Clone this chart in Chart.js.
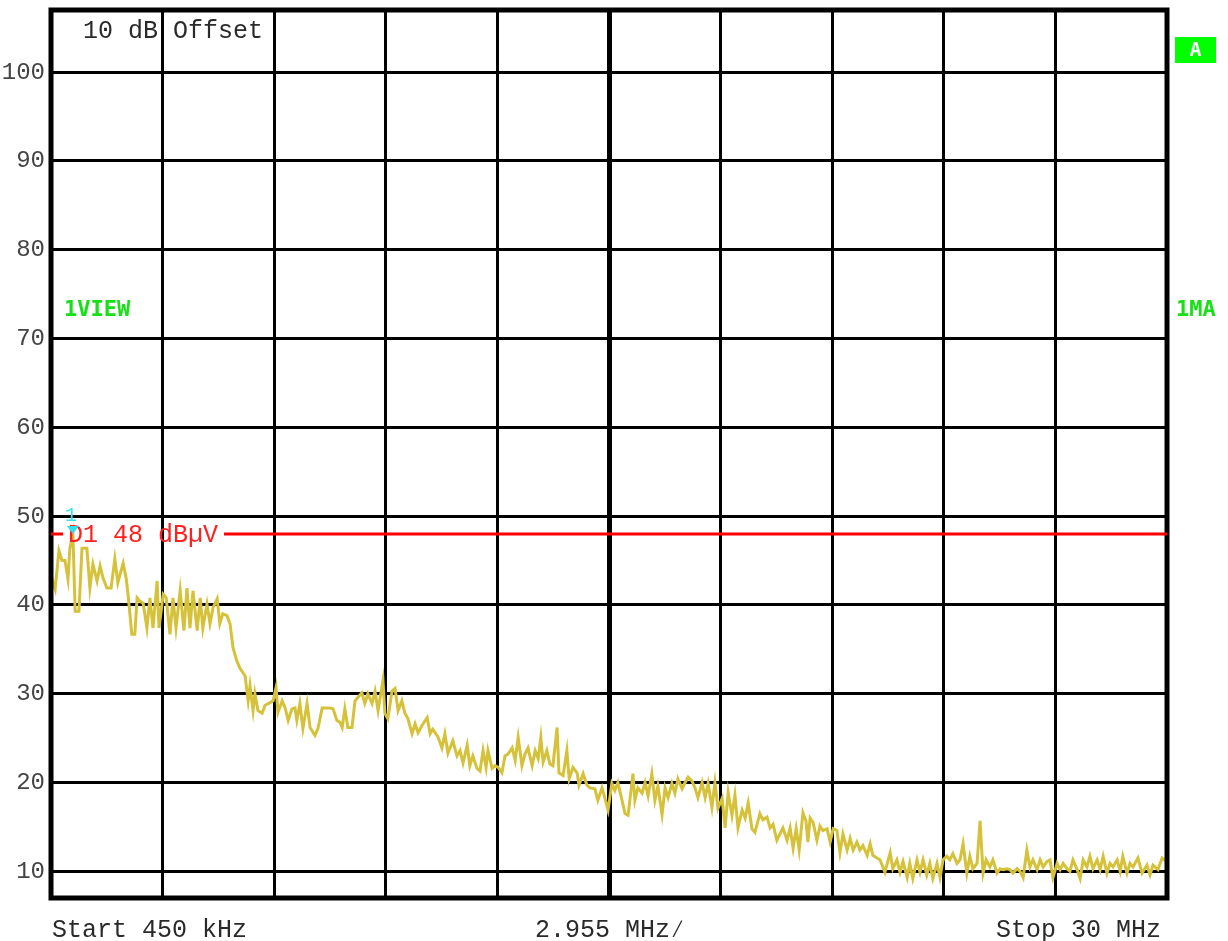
<!DOCTYPE html>
<html>
<head>
<meta charset="utf-8">
<script src="https://cdn.jsdelivr.net/npm/chart.js@4"></script>
<style>
    body { margin: 0; background: #fff; }
    #wrap { width: 1228px; height: 941px; position: relative; }
</style>
</head>
<body>
<div id="wrap"><canvas id="spectrum"></canvas></div>
<script>
// Sweep settings (MHz) and level axis (dBuV)
const xStart = 0.45;
const xStop = 30;
const xPerDiv = 2.955;
const yMin = 7;
const yMax = 107;
const yTicks = [10, 20, 30, 40, 50, 60, 70, 80, 90, 100];

// Trace: frequency (MHz) and level (dBuV)
const freqs = [
    0.45, 0.56, 0.66, 0.74, 0.82, 0.90, 0.95, 1.03, 1.09, 1.19,
    1.27, 1.40, 1.48, 1.56, 1.67, 1.75, 1.83, 1.93, 2.04, 2.14,
    2.22, 2.36, 2.44, 2.49, 2.59, 2.67, 2.73, 2.81, 2.89, 2.99,
    3.07, 3.15, 3.26, 3.31, 3.42, 3.50, 3.60, 3.68, 3.76, 3.87,
    3.97, 4.05, 4.13, 4.21, 4.32, 4.40, 4.47, 4.58, 4.66, 4.74,
    4.85, 4.92, 5.00, 5.11, 5.19, 5.27, 5.37, 5.45, 5.59, 5.67,
    5.72, 5.80, 5.85, 5.93, 6.04, 6.12, 6.25, 6.33, 6.41, 6.46,
    6.57, 6.65, 6.73, 6.83, 6.91, 6.96, 7.04, 7.12, 7.23, 7.31,
    7.44, 7.52, 7.63, 7.71, 7.84, 7.92, 8.02, 8.10, 8.16, 8.23,
    8.31, 8.42, 8.50, 8.58, 8.68, 8.76, 8.84, 8.95, 9.03, 9.11,
    9.24, 9.29, 9.37, 9.48, 9.56, 9.64, 9.74, 9.82, 9.90, 10.01,
    10.09, 10.17, 10.27, 10.41, 10.49, 10.56, 10.70, 10.80, 10.88, 10.96,
    11.09, 11.20, 11.28, 11.36, 11.47, 11.54, 11.62, 11.73, 11.81, 11.89,
    11.97, 12.02, 12.13, 12.21, 12.29, 12.39, 12.47, 12.55, 12.66, 12.74,
    12.82, 12.92, 13.00, 13.08, 13.19, 13.27, 13.35, 13.42, 13.48, 13.58,
    13.66, 13.74, 13.85, 13.90, 14.01, 14.11, 14.17, 14.27, 14.38, 14.43,
    14.54, 14.64, 14.72, 14.85, 14.93, 15.04, 15.12, 15.20, 15.30, 15.38,
    15.46, 15.57, 15.65, 15.73, 15.86, 15.91, 15.99, 16.10, 16.18, 16.26,
    16.36, 16.44, 16.52, 16.63, 16.71, 16.79, 16.89, 16.97, 17.05, 17.16,
    17.24, 17.32, 17.42, 17.50, 17.58, 17.69, 17.77, 17.85, 17.95, 18.03,
    18.11, 18.22, 18.30, 18.38, 18.48, 18.56, 18.64, 18.75, 18.83, 18.91,
    19.01, 19.09, 19.22, 19.30, 19.41, 19.49, 19.57, 19.67, 19.75, 19.83,
    19.94, 20.02, 20.10, 20.18, 20.26, 20.36, 20.44, 20.49, 20.55, 20.63,
    20.73, 20.81, 20.89, 21.00, 21.08, 21.16, 21.26, 21.34, 21.42, 21.53,
    21.61, 21.69, 21.79, 21.87, 21.95, 22.06, 22.14, 22.21, 22.32, 22.40,
    22.53, 22.67, 22.74, 22.85, 22.93, 23.01, 23.12, 23.19, 23.27, 23.38,
    23.46, 23.54, 23.64, 23.72, 23.80, 23.91, 23.99, 24.07, 24.17, 24.25,
    24.33, 24.44, 24.52, 24.60, 24.70, 24.78, 24.86, 24.97, 25.05, 25.13,
    25.21, 25.31, 25.39, 25.50, 25.58, 25.66, 25.76, 25.84, 25.92, 26.03,
    26.11, 26.19, 26.29, 26.37, 26.45, 26.56, 26.64, 26.72, 26.82, 26.90,
    26.98, 27.09, 27.17, 27.25, 27.35, 27.43, 27.51, 27.62, 27.70, 27.78,
    27.88, 27.96, 28.04, 28.15, 28.23, 28.31, 28.41, 28.49, 28.57, 28.68,
    28.76, 28.83, 28.94, 29.02, 29.10, 29.23, 29.34, 29.47, 29.55, 29.63,
    29.76, 29.87, 30.00
];
const levels = [
    43.3, 41.8, 46.1, 45.0, 45.0, 42.9, 46.4, 48.0, 39.3, 39.3,
    46.4, 46.4, 41.9, 44.6, 42.7, 44.4, 43.0, 41.9, 41.9, 45.2,
    42.5, 44.7, 43.0, 41.2, 36.7, 36.7, 40.8, 40.4, 40.2, 37.4,
    40.8, 37.4, 42.7, 37.4, 41.2, 40.8, 36.7, 40.8, 37.4, 41.6,
    37.1, 41.9, 37.4, 41.6, 37.1, 40.8, 37.4, 40.1, 37.9, 39.7,
    40.7, 37.9, 39.0, 38.8, 37.9, 35.2, 33.7, 32.9, 32.0, 29.2,
    30.9, 28.1, 30.0, 28.1, 27.8, 28.7, 29.0, 29.2, 30.7, 27.9,
    29.2, 28.4, 27.0, 28.3, 28.4, 27.0, 28.9, 26.1, 28.9, 26.2,
    25.3, 26.1, 28.4, 28.4, 28.4, 28.3, 27.0, 26.8, 26.2, 28.3,
    26.2, 26.2, 29.2, 29.6, 30.1, 28.9, 30.0, 28.9, 30.3, 28.1,
    31.5, 27.8, 27.2, 30.3, 30.6, 28.1, 29.2, 27.8, 27.2, 25.5,
    26.6, 25.6, 26.4, 27.3, 25.5, 26.0, 25.1, 23.9, 25.5, 23.3,
    24.7, 23.0, 23.6, 22.2, 24.2, 21.9, 23.0, 21.6, 21.3, 23.6,
    21.7, 23.6, 21.6, 21.9, 21.7, 21.1, 23.0, 23.2, 23.9, 22.5,
    25.1, 21.9, 23.2, 23.9, 21.9, 23.6, 22.7, 25.1, 22.3, 23.6,
    22.1, 21.9, 26.2, 21.1, 20.8, 23.6, 20.4, 21.7, 21.1, 19.7,
    21.0, 19.7, 19.4, 19.3, 18.0, 19.4, 18.2, 16.9, 19.9, 19.1,
    20.0, 18.0, 16.5, 16.3, 21.0, 18.0, 19.4, 18.8, 20.0, 18.5,
    21.0, 18.0, 19.6, 16.4, 19.4, 18.3, 19.9, 18.8, 20.4, 19.3,
    20.0, 20.6, 20.2, 19.4, 18.3, 20.0, 18.3, 19.9, 17.2, 20.0,
    17.1, 18.2, 14.9, 18.9, 16.3, 18.6, 14.9, 16.9, 16.0, 17.7,
    14.8, 14.4, 16.5, 15.8, 16.1, 14.9, 15.3, 13.5, 14.2, 14.9,
    13.5, 14.9, 12.6, 14.8, 12.4, 16.6, 15.7, 13.3, 16.0, 15.5,
    13.5, 15.1, 14.6, 14.8, 13.3, 14.8, 14.6, 12.1, 14.2, 12.4,
    13.7, 12.4, 13.3, 12.4, 12.9, 11.8, 13.1, 11.8, 11.5, 11.3,
    9.9, 12.1, 10.3, 11.3, 9.9, 11.1, 9.3, 10.9, 9.2, 11.3,
    9.9, 11.3, 9.6, 10.9, 9.2, 10.9, 9.3, 11.3, 11.7, 11.3,
    12.0, 10.9, 11.3, 13.1, 9.8, 11.7, 10.3, 10.9, 15.7, 9.8,
    11.3, 10.5, 11.3, 9.8, 10.3, 10.2, 10.3, 10.2, 9.8, 10.3,
    10.0, 9.3, 12.4, 10.5, 11.3, 10.2, 11.3, 10.5, 11.1, 11.3,
    9.3, 10.9, 10.2, 10.9, 10.3, 10.0, 11.3, 10.2, 9.2, 11.3,
    10.5, 11.7, 10.3, 11.3, 10.2, 11.7, 9.8, 10.9, 10.5, 11.3,
    10.0, 11.7, 9.8, 10.9, 10.5, 11.5, 9.8, 10.7, 9.6, 10.7,
    10.2, 11.5, 11.1
];

// Display line and marker
const displayLine = 48;
const markerFreq = 1.03;
const markerLevel = 48.0;

const monoFont = '"Liberation Mono", "DejaVu Sans Mono", monospace';

// vertical divisions: start + n * MHz/div
const xTicks = [];
for (let i = 0; i <= 10; i++) {
    xTicks.push(xStart + i * xPerDiv);
}

const overlayPlugin = {
    id: 'analyzerOverlay',
    afterDraw(chart) {
        const { ctx, chartArea: a, scales } = chart;
        const xs = scales.x;
        const ys = scales.y;
        ctx.save();

        // outer frame
        ctx.strokeStyle = '#000';
        ctx.lineWidth = 5;
        ctx.strokeRect(a.left, a.top, a.right - a.left, a.bottom - a.top);

        // display line with its label
        const dy = ys.getPixelForValue(displayLine);
        ctx.font = '25px ' + monoFont;
        const dText = 'D1 48 dB\u00b5V';
        const tx = a.left + 17;
        const tw = ctx.measureText(dText).width;
        ctx.strokeStyle = '#ff0000';
        ctx.lineWidth = 3;
        ctx.beginPath();
        ctx.moveTo(a.left, dy);
        ctx.lineTo(tx - 5, dy);
        ctx.moveTo(tx + tw + 6, dy);
        ctx.lineTo(a.right, dy);
        ctx.stroke();
        ctx.fillStyle = '#ff2020';
        ctx.textBaseline = 'middle';
        ctx.textAlign = 'left';
        ctx.fillText(dText, tx, dy + 1);

        // marker 1
        const mx = xs.getPixelForValue(markerFreq);
        const my = ys.getPixelForValue(markerLevel);
        ctx.fillStyle = '#33e0ee';
        ctx.beginPath();
        ctx.moveTo(mx - 6, my - 8);
        ctx.lineTo(mx + 6, my - 8);
        ctx.lineTo(mx, my);
        ctx.closePath();
        ctx.fill();
        ctx.font = '20px ' + monoFont;
        ctx.textAlign = 'center';
        ctx.textBaseline = 'alphabetic';
        ctx.fillText('1', mx - 2, my - 13);

        // annotations on the screen
        ctx.fillStyle = '#2a2a2a';
        ctx.font = '25px ' + monoFont;
        ctx.textAlign = 'left';
        ctx.fillText('10 dB Offset', a.left + 32, a.top + 28);
        ctx.fillText('Start 450 kHz', a.left + 1, a.bottom + 39);
        ctx.textAlign = 'center';
        ctx.fillText('2.955 MHz\u2215', (a.left + a.right) / 2 + 1, a.bottom + 39);
        ctx.textAlign = 'right';
        ctx.fillText('Stop 30 MHz', a.right - 6, a.bottom + 39);

        // green status labels
        ctx.fillStyle = '#16e016';
        ctx.font = 'bold 22px "DejaVu Sans Mono", monospace';
        ctx.textAlign = 'left';
        ctx.fillText('1VIEW', a.left + 13, 316);
        ctx.fillText('1MA', a.right + 9, 316);

        ctx.fillStyle = '#00ff00';
        ctx.fillRect(a.right + 8, 37, 41, 26);
        ctx.fillStyle = '#fff';
        ctx.font = 'bold 20px "DejaVu Sans Mono", monospace';
        ctx.textAlign = 'center';
        ctx.textBaseline = 'middle';
        ctx.fillText('A', a.right + 28.5, 51);

        ctx.restore();
    }
};

new Chart(document.getElementById('spectrum').getContext('2d'), {
    type: 'line',
    data: {
        datasets: [{
            label: 'Trace',
            data: freqs.map((f, i) => ({ x: f, y: levels[i] })),
            borderColor: '#d6c23a',
            borderWidth: 3,
            pointRadius: 0,
            tension: 0,
            fill: false
        }]
    },
    options: {
        responsive: true,
        maintainAspectRatio: false,
        animation: false,
        layout: {
            padding: { left: 0, right: 61, top: 10, bottom: 43 }
        },
        plugins: {
            legend: { display: false },
            tooltip: { enabled: false }
        },
        scales: {
            x: {
                type: 'linear',
                min: xStart,
                max: xStop,
                afterBuildTicks: scale => {
                    scale.ticks = xTicks.map(v => ({ value: v }));
                },
                afterFit: scale => {
                    scale.height = 0;
                    scale.paddingLeft = 0;
                    scale.paddingRight = 0;
                },
                ticks: { display: false },
                border: { display: false },
                grid: {
                    color: '#000',
                    drawTicks: false,
                    lineWidth: ctx => (ctx.index === 5 ? 5 : 3)
                }
            },
            y: {
                min: yMin,
                max: yMax,
                afterBuildTicks: scale => {
                    scale.ticks = yTicks.map(v => ({ value: v }));
                },
                afterFit: scale => {
                    scale.width = 51;
                    scale.paddingTop = 0;
                    scale.paddingBottom = 0;
                },
                border: { display: false },
                ticks: {
                    color: '#444',
                    padding: 6,
                    font: { family: monoFont, size: 24 }
                },
                grid: {
                    color: '#000',
                    drawTicks: false,
                    lineWidth: 3
                }
            }
        }
    },
    plugins: [overlayPlugin]
});
</script>
</body>
</html>
